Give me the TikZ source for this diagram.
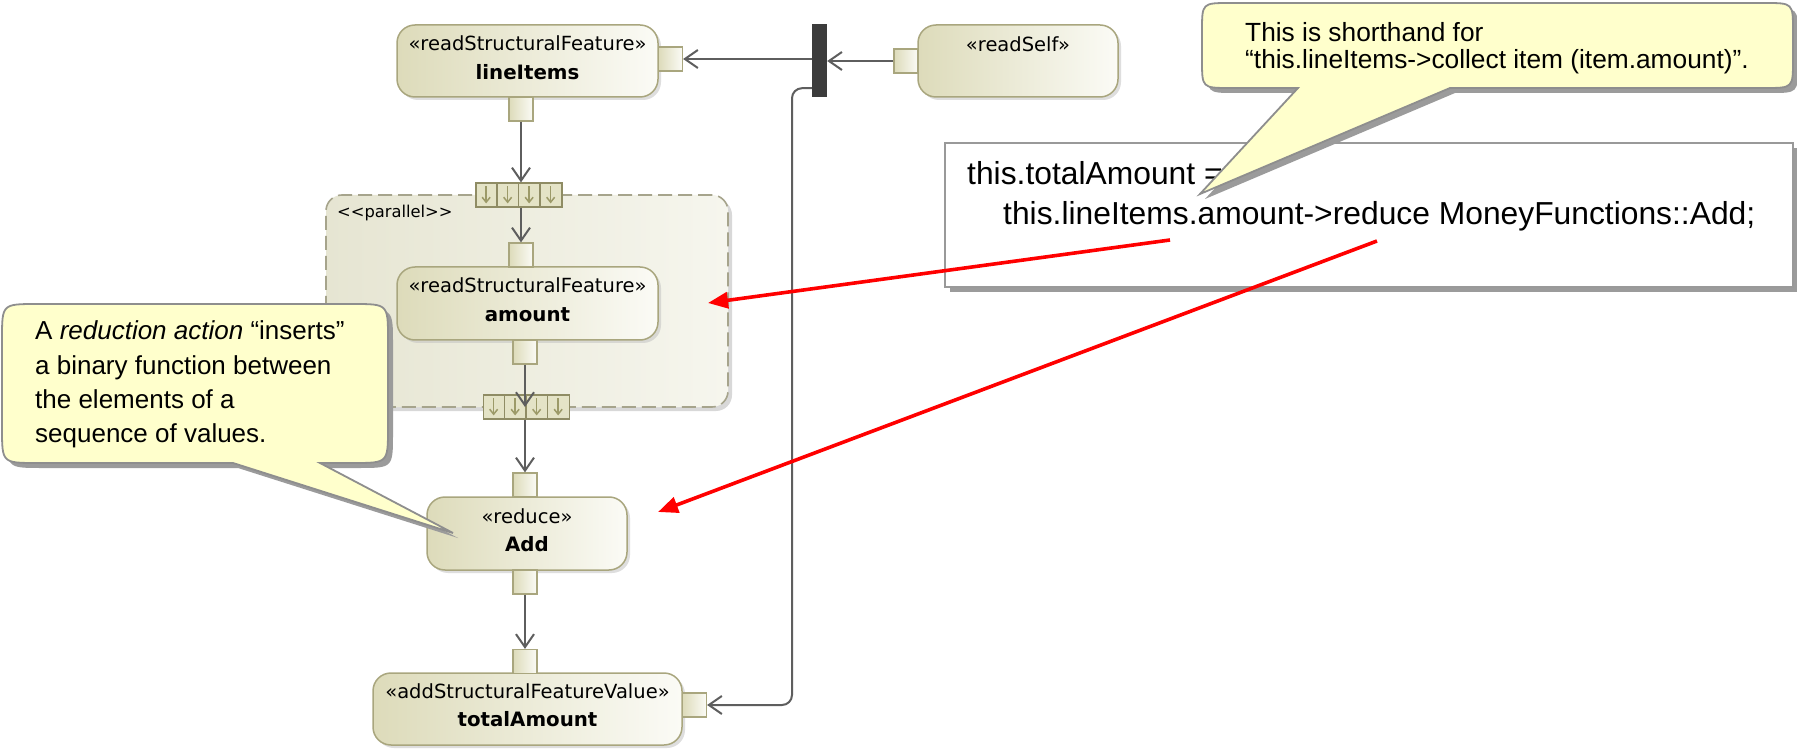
\documentclass[tikz,border=0pt]{standalone}
\usepackage{fontspec}
\setmainfont{Liberation Sans}
\newfontfamily\uifont{DejaVu Sans}
\usetikzlibrary{arrows.meta,shadows,calc}

\definecolor{actfillL}{HTML}{DDDBBA}
\definecolor{actfillR}{HTML}{FBFBF6}
\definecolor{actdraw}{HTML}{A9A67E}
\definecolor{regfillL}{HTML}{E6E5D2}
\definecolor{regfillR}{HTML}{F6F6EE}
\definecolor{regdraw}{HTML}{A6A48C}
\definecolor{flowgray}{HTML}{5E5E5E}
\definecolor{forkgray}{HTML}{3C3C3C}
\definecolor{notefill}{HTML}{FFFFCC}
\definecolor{notedraw}{HTML}{8E8E8E}
\definecolor{noteshadow}{HTML}{9B9B9B}
\definecolor{expfill}{HTML}{E4E3C6}
\definecolor{expdraw}{HTML}{8F8C64}
\definecolor{exparrow}{HTML}{9C9A68}

% outlines of the two comment callouts (body with pointer)
\newcommand\calloutTop{(1450,88) -- (1765,88) .. controls (1793,88) .. (1793,60)
  -- (1793,31) .. controls (1793,3) .. (1765,3) -- (1230,3)
  .. controls (1202,3) .. (1202,31) -- (1202,60) .. controls (1202,88) .. (1230,88)
  -- (1298,88) -- (1200,194) -- cycle}
\newcommand\calloutLeft{(320,463) -- (353,463) .. controls (388,463) .. (388,428)
  -- (388,339) .. controls (388,304) .. (353,304) -- (37,304)
  .. controls (2,304) .. (2,339) -- (2,428) .. controls (2,463) .. (37,463)
  -- (233,463) -- (453,533) -- cycle}

\begin{document}
\begin{tikzpicture}[x=1pt,y=-1pt,
  action/.style={draw=actdraw, line width=1.5pt, rounded corners=18pt,
    left color=actfillL, right color=actfillR, inner sep=0pt,
    drop shadow={shadow xshift=3pt, shadow yshift=-3pt, fill=black!25, opacity=0.5}},
  pinbox/.style={draw=actdraw, line width=1.2pt, left color=actfillL, right color=actfillR,
    minimum width=24pt, minimum height=24pt, inner sep=0pt},
  region/.style={draw=regdraw, line width=1.6pt, dash pattern=on 14pt off 6pt,
    rounded corners=16pt, left color=regfillL, right color=regfillR,
    minimum width=402pt, minimum height=212pt, inner sep=0pt,
    drop shadow={shadow xshift=4pt, shadow yshift=-4pt, fill=black!30, opacity=0.5}},
  expnode/.style={draw=expdraw, line width=1.2pt, fill=expfill,
    minimum width=86pt, minimum height=24pt, inner sep=0pt},
  cellarrow/.style={draw=exparrow, line width=1.5pt, -{Straight Barb[length=5pt,width=8pt]}},
  stereo/.style={font=\uifont\fontsize{19.5}{23}\selectfont, text height=14pt, text depth=4pt, inner sep=0pt},
  actname/.style={font=\uifont\bfseries\fontsize{19.8}{23}\selectfont, text height=14pt, text depth=4pt, inner sep=0pt},
  reglabel/.style={font=\uifont\fontsize{16.3}{20}\selectfont, inner sep=0pt},
  flow/.style={draw=flowgray, line width=2pt, -{Straight Barb[length=13pt,width=18pt]}},
  redarrow/.style={draw=red, line width=3.6pt, -{Triangle[length=20pt,width=16pt]}},
  codebox/.style={draw=black!40, line width=1.5pt, fill=white, inner sep=0pt,
    minimum width=848pt, minimum height=144pt,
    drop shadow={shadow xshift=5pt, shadow yshift=-5pt, fill=noteshadow, opacity=1}},
  codetext/.style={font=\fontsize{31.8}{40}\selectfont, inner sep=0pt},
  note/.style={draw=notedraw, line width=1.8pt, fill=notefill},
  notetext/.style={font=\fontsize{26.3}{30}\selectfont, inner sep=0pt},
  noteshade/.style={fill=noteshadow, shift={(5,5)}}
]
\fill[white] (0,0) rectangle (1797,751);
\useasboundingbox (0,0) rectangle (1797,751);

% expansion region
\node[region] (reg) at (527,301) {};
\node[reglabel, anchor=west] (regl) at (337,213) {<{}<parallel>{}>};

% input and output expansion nodes
\node[expnode] (te) at (519,195) {};
\node[expnode] (be) at (526.5,407) {};
\foreach \e in {te,be}{
  \foreach \i in {1,2,3}
    \draw[expdraw, line width=1.2pt] ($(\e.north west)+(\i*21.5,0)$) -- ($(\e.south west)+(\i*21.5,0)$);
  \foreach \i in {0,1,2,3}
    \draw[cellarrow] ($(\e.north west)+(\i*21.5+10.75,4)$) -- ($(\e.north west)+(\i*21.5+10.75,21)$);
}

% actions
\node[action, minimum width=261pt, minimum height=72pt] (li) at (527.5,61) {};
\node[stereo] (lis) at ([yshift=-21pt]li.north) {«readStructuralFeature»};
\node[actname] (lin) at ([yshift=-50pt]li.north) {lineItems};

\node[action, minimum width=200pt, minimum height=72pt] (rs) at (1018,61) {};
\node[stereo] (rss) at ([yshift=-22pt]rs.north) {«readSelf»};

\node[action, minimum width=261pt, minimum height=73pt] (am) at (527.5,303.5) {};
\node[stereo] (ams) at ([yshift=-21pt]am.north) {«readStructuralFeature»};
\node[actname] (amn) at ([yshift=-50pt]am.north) {amount};

\node[action, minimum width=200pt, minimum height=73pt] (ad) at (527,533.5) {};
\node[stereo] (ads) at ([yshift=-22pt]ad.north) {«reduce»};
\node[actname] (adn) at ([yshift=-50pt]ad.north) {Add};

\node[action, minimum width=309pt, minimum height=72pt] (ta) at (527.5,709) {};
\node[stereo] (tas) at ([yshift=-21pt]ta.north) {«addStructuralFeatureValue»};
\node[actname] (tan) at ([yshift=-49pt]ta.north) {totalAmount};

% pins
\node[pinbox] (lipr) at (670.5,59) {};
\node[pinbox] (lipb) at (521,109) {};
\node[pinbox] (rsp) at (906,61) {};
\node[pinbox] (amt) at (521,255) {};
\node[pinbox] (amb) at (525,352) {};
\node[pinbox] (adt) at (525,485) {};
\node[pinbox] (adb) at (525,582) {};
\node[pinbox] (tat) at (525,661.5) {};
\node[pinbox] (tar) at (694.5,705) {};

% fork
\node[fill=forkgray, minimum width=15pt, minimum height=73pt, inner sep=0pt] (bar) at (819.5,60.5) {};

% object flows
\draw[flow] (lipb.south) -- (lipb.south |- te.north);
\draw[flow] (te.south -| amt.north) -- (amt.north);
\draw[flow] (amb.south) -- (amb.south |- be.center);
\draw[flow] (be.south -| adt.north) -- (adt.north);
\draw[flow] (adb.south) -- (tat.north);
\draw[flow] (rsp.west) -- (rsp.west -| bar.east);
\draw[flow] (lipr.east -| bar.west) -- (lipr.east);
\coordinate (bend) at (792,705);
\draw[flow, rounded corners=10pt] ([yshift=9pt]bar.south west) -| (bend) -- (tar.east);

% textual form of the activity
\node[codebox] (code) at (1369,215) {};
\node[codetext, anchor=base west] (c1) at (967,185) {this.totalAmount =};
\node[codetext, anchor=base west] (c2) at (1003,225) {this.lineItems.amount->reduce MoneyFunctions::Add;};

% red pointers from the text to the diagram
\coordinate (r1a) at (1170,240);
\coordinate (r1b) at (708,303);
\coordinate (r2a) at (1377,241);
\coordinate (r2b) at (658,512);
\draw[redarrow] (r1a) -- (r1b);
\draw[redarrow] (r2a) -- (r2b);

% comment callouts
\fill[noteshade] \calloutTop;
\draw[note] \calloutTop;
\node[notetext, anchor=base west] (n1a) at (1245,42) {This is shorthand for};
\node[notetext, anchor=base west] (n1b) at (1245,69) {“this.lineItems->collect item (item.amount)”.};

\fill[noteshade] \calloutLeft;
\draw[note] \calloutLeft;
\node[notetext, anchor=base west, font=\fontsize{26}{30}\selectfont] (n2a) at (35,340) {A \textit{reduction action} “inserts”};
\node[notetext, anchor=base west, font=\fontsize{26}{30}\selectfont] (n2b) at (35,374) {a binary function between};
\node[notetext, anchor=base west, font=\fontsize{26}{30}\selectfont] (n2c) at (35,408) {the elements of a};
\node[notetext, anchor=base west, font=\fontsize{26}{30}\selectfont] (n2d) at (35,442) {sequence of values.};
\end{tikzpicture}
\end{document}
